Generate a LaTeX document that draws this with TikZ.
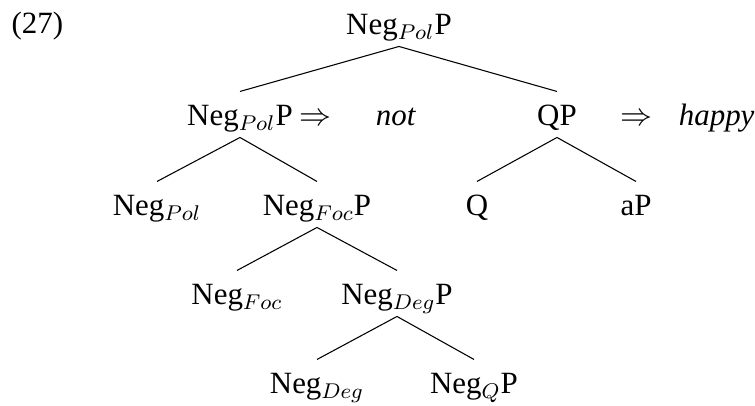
\documentclass[tikz,border=0pt]{standalone}
\usepackage{fontspec}
\setmainfont{Liberation Serif}
\begin{document}
\begin{tikzpicture}[x=0.375pt,y=-0.375pt,font=\fontsize{11.6}{14}\selectfont,
  cat/.style={anchor=base,inner sep=0pt,text height=12.75pt,text depth=4.1pt},
  gloss/.style={anchor=base,inner sep=0pt}]

\useasboundingbox (0,0) rectangle (755,406);

% Example number
\node[gloss,anchor=base west] (exnum) at (11,34) {(27)};

% Nodes
\node[cat] (root) at (399,35) {Neg$_{Pol}$P};

\node[cat] (negpolp) at (240,126) {Neg$_{Pol}$P};
\node[cat] (qp) at (557,126) {QP};

\node[cat] (negpol) at (157,216) {Neg$_{Pol}$};
\node[cat] (negfocp) at (317,216) {Neg$_{Foc}$P};
\node[cat] (q) at (477,216) {Q};
\node[cat] (ap) at (636,216) {aP};

\node[cat] (negfoc) at (237,305) {Neg$_{Foc}$};
\node[cat] (negdegp) at (397,305) {Neg$_{Deg}$P};

\node[cat] (negdeg) at (317,394) {Neg$_{Deg}$};
\node[cat] (negqp) at (474,394) {Neg$_{Q}$P};

% Spell-out
\node[gloss] (arrnot) at (315,126) {$\Rightarrow$};
\node[gloss] (not) at (396,126) {\textit{not}};
\node[gloss] (arrhappy) at (636,126) {$\Rightarrow$};
\node[gloss,anchor=base east] (happy) at (755,126) {\textit{happy}};

% Branches
\draw (root.south) -- (negpolp.north);
\draw (root.south) -- (qp.north);
\draw (negpolp.south) -- (negpol.north);
\draw (negpolp.south) -- (negfocp.north);
\draw (qp.south) -- (q.north);
\draw (qp.south) -- (ap.north);
\draw (negfocp.south) -- (negfoc.north);
\draw (negfocp.south) -- (negdegp.north);
\draw (negdegp.south) -- (negdeg.north);
\draw (negdegp.south) -- (negqp.north);

\end{tikzpicture}
\end{document}
